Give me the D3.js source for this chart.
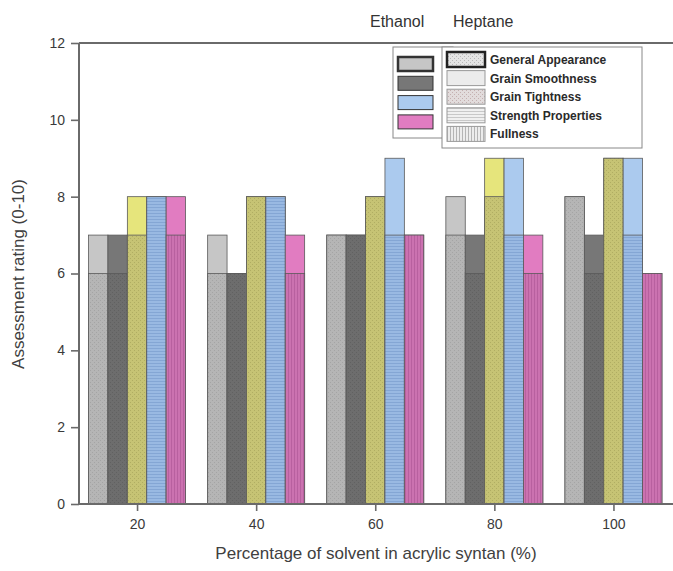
<!DOCTYPE html>
<html>
<head>
<meta charset="utf-8">
<script src="https://cdn.jsdelivr.net/npm/d3@7"></script>
<style>
  body { margin: 0; background: #fff; }
  svg { display: block; font-family: "Liberation Sans", Arial, sans-serif; }
</style>
</head>
<body>
<div id="chart"></div>
<script>
// solvent percentages on the x axis
var groups = [20, 40, 60, 80, 100];
var properties = ["General Appearance", "Grain Smoothness", "Grain Tightness", "Strength Properties", "Fullness"];
// rows = property, columns = group
var ethanolRatings = [
    [7, 7, 7, 8, 8],
    [7, 6, 7, 7, 7],
    [8, 8, 8, 9, 9],
    [8, 8, 9, 9, 9],
    [8, 7, 7, 7, 6]
];
var heptaneRatings = [
    [6, 6, 7, 7, 8],
    [6, 6, 7, 6, 6],
    [7, 8, 8, 8, 9],
    [8, 8, 7, 7, 7],
    [7, 6, 7, 6, 6]
];
var yTicks = [0, 2, 4, 6, 8, 10, 12];

var solidColor = ["#c6c6c6", "#777777", "#e6e57c", "#abcaee", "#e17cc1"];
var patBase = ["#b5b5b5", "#6d6d6d", "#c6c374", "#99b9e2", "#cb72b0"];
var patInk = ["#a4a4a4", "#616161", "#b0ad62", "#84a6d4", "#b8609f"];
var patKind = ["dots", "dots", "dots", "hlines", "vlines"];

var W = 673, H = 571;
var svg = d3.select("#chart").append("svg").attr("width", W).attr("height", H);
var defs = svg.append("defs");

function makePattern(id, base, ink, kind) {
    var p = defs.append("pattern").attr("id", id).attr("patternUnits", "userSpaceOnUse")
        .attr("width", 4).attr("height", 4);
    p.append("rect").attr("width", 4).attr("height", 4).attr("fill", base);
    if (kind === "dots") {
        p.append("rect").attr("x", 0).attr("y", 0).attr("width", 1).attr("height", 1).attr("fill", ink);
        p.append("rect").attr("x", 2).attr("y", 2).attr("width", 1).attr("height", 1).attr("fill", ink);
    } else if (kind === "hlines") {
        p.attr("height", 3);
        p.append("rect").attr("x", 0).attr("y", 0).attr("width", 4).attr("height", 1).attr("fill", ink);
    } else if (kind === "vlines") {
        p.attr("width", 3);
        p.append("rect").attr("x", 0).attr("y", 0).attr("width", 1).attr("height", 4).attr("fill", ink);
    }
}
properties.forEach(function (p, i) {
    makePattern("hep" + i, patBase[i], patInk[i], patKind[i]);
});
// light legend patterns
makePattern("leg0", "#e4e4e4", "#b8b8b8", "dots");
makePattern("leg1", "#ececec", "#e0e0e0", "plain");
makePattern("leg2", "#e2dcdc", "#c4b0b0", "dots");
makePattern("leg3", "#f0f0f0", "#c8c8c8", "hlines");
makePattern("leg4", "#ececec", "#b4b4b4", "vlines");

var x = d3.scaleLinear().domain([10, 110]).range([77.5, 673]);
var y = d3.scaleLinear().domain([0, 12]).range([504, 43]);
var inner = d3.scaleBand().domain(properties).range([-48.5, 48.5]);

var g = svg.append("g");

groups.forEach(function (grp, gi) {
    properties.forEach(function (p, pi) {
        var e = ethanolRatings[pi][gi], h = heptaneRatings[pi][gi];
        var bx = x(grp) + inner(p);
        // ethanol (solid) behind, heptane (patterned) in front
        g.append("rect")
            .attr("x", bx).attr("y", y(e))
            .attr("width", inner.bandwidth()).attr("height", y(0) - y(e))
            .attr("fill", solidColor[pi])
            .attr("stroke", "#5a5a5a").attr("stroke-width", 0.8);
        g.append("rect")
            .attr("x", bx).attr("y", y(h))
            .attr("width", inner.bandwidth()).attr("height", y(0) - y(h))
            .attr("fill", "url(#hep" + pi + ")")
            .attr("stroke", "#5a5a5a").attr("stroke-width", 0.8);
    });
});

// axes
var yAxis = svg.append("g").attr("transform", "translate(79,0)")
    .call(d3.axisLeft(y).tickValues(yTicks).tickSize(8).tickPadding(6));
var xAxis = svg.append("g").attr("transform", "translate(0,504)")
    .call(d3.axisBottom(x).tickValues(groups).tickSize(7).tickPadding(8));
[yAxis, xAxis].forEach(function (a) {
    a.select(".domain").attr("stroke", "#6a6a6a").attr("stroke-width", 2);
    a.selectAll(".tick line").attr("stroke", "#6a6a6a").attr("stroke-width", 1.6);
    a.selectAll(".tick text").attr("fill", "#3a3a3a").style("font-size", "14px");
});
yAxis.select(".domain").attr("d", "M0,43V504");
xAxis.select(".domain").attr("d", "M79,0H673");

// top frame line
svg.append("line").attr("x1", 79).attr("x2", 673).attr("y1", 43).attr("y2", 43)
    .attr("stroke", "#6a6a6a").attr("stroke-width", 2);

svg.append("text")
    .attr("transform", "translate(24,274) rotate(-90)")
    .attr("text-anchor", "middle")
    .attr("fill", "#404040")
    .style("font-size", "17px")
    .text("Assessment rating (0-10)");

svg.append("text")
    .attr("x", 376).attr("y", 559)
    .attr("text-anchor", "middle")
    .attr("fill", "#404040")
    .style("font-size", "17px")
    .text("Percentage of solvent in acrylic syntan (%)");

// legend
svg.append("text").attr("x", 370).attr("y", 27).attr("fill", "#333").style("font-size", "16px").text("Ethanol");
svg.append("text").attr("x", 453).attr("y", 27).attr("fill", "#333").style("font-size", "16px").text("Heptane");

svg.append("rect").attr("x", 393).attr("y", 47).attr("width", 60).attr("height", 91)
    .attr("fill", "#fff").attr("stroke", "#888").attr("stroke-width", 1);
var ethLegend = [0, 1, 3, 4];
ethLegend.forEach(function (pi, k) {
    svg.append("rect").attr("x", 398).attr("y", 57 + k * 19.3).attr("width", 35).attr("height", 14)
        .attr("fill", solidColor[pi])
        .attr("stroke", "#333").attr("stroke-width", k === 0 ? 2.5 : 1);
});

svg.append("rect").attr("x", 442).attr("y", 47).attr("width", 200).attr("height", 101)
    .attr("fill", "#fff").attr("stroke", "#888").attr("stroke-width", 1);
properties.forEach(function (p, i) {
    var ry = 52 + i * 18.6;
    svg.append("rect").attr("x", 447).attr("y", ry).attr("width", 38).attr("height", 15)
        .attr("fill", "url(#leg" + i + ")")
        .attr("stroke", i === 0 ? "#222" : "#999").attr("stroke-width", i === 0 ? 2.5 : 1);
    svg.append("text").attr("x", 490).attr("y", ry + 12)
        .attr("fill", "#2a2a2a").style("font-size", "12px").style("font-weight", "bold")
        .text(p);
});
</script>
</body>
</html>
